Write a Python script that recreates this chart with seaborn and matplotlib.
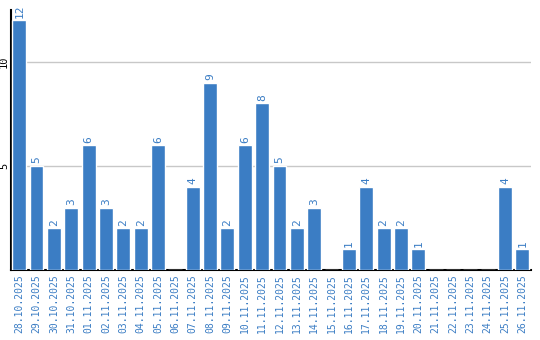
import matplotlib
matplotlib.use("Agg")
import matplotlib.pyplot as plt
import seaborn as sns
import pandas as pd

dates = ["28.10.2025", "29.10.2025", "30.10.2025", "31.10.2025", "01.11.2025",
         "02.11.2025", "03.11.2025", "04.11.2025", "05.11.2025", "06.11.2025",
         "07.11.2025", "08.11.2025", "09.11.2025", "10.11.2025", "11.11.2025",
         "12.11.2025", "13.11.2025", "14.11.2025", "15.11.2025", "16.11.2025",
         "17.11.2025", "18.11.2025", "19.11.2025", "20.11.2025", "21.11.2025",
         "22.11.2025", "23.11.2025", "24.11.2025", "25.11.2025", "26.11.2025"]
values = [12, 5, 2, 3, 6, 3, 2, 2, 6, 0, 4, 9, 2, 6, 8, 5, 2, 3, 0, 1,
          4, 2, 2, 1, 0, 0, 0, 0, 4, 1]
y_ticks = [5, 10]

sns.set_style("white")
plt.rcParams['font.family'] = ['DejaVu Sans Mono', 'DejaVu Sans']

df = pd.DataFrame({"date": dates, "value": values})
blue = "#3b7dc4"

fig = plt.figure(figsize=(5.4, 3.4), dpi=100)
ax = fig.add_axes([0.0195, 0.206, 0.964, 0.765])
sns.barplot(data=df, x="date", y="value", color=blue, width=0.8,
            saturation=1, ax=ax, zorder=3)
ax.set_xlim(-0.5, len(dates) - 0.5)
ax.set_ylim(0, 12.5)
ax.set_yticks(y_ticks)
ax.set_yticklabels([str(t) for t in y_ticks], rotation=90, va="center",
                   fontsize=7.5, color="black")
ax.yaxis.grid(True, color="#c8c8c8", linewidth=1, zorder=0)
ax.set_axisbelow(True)
ax.tick_params(axis="y", length=0, pad=1)
ax.tick_params(axis="x", length=0, pad=3)
ax.set_xticks(range(len(dates)))
ax.set_xticklabels(dates, rotation=90, fontsize=7, color=blue)
ax.set_xlabel("")
ax.set_ylabel("")
for s in ["top", "right"]:
    ax.spines[s].set_visible(False)
for s in ["left", "bottom"]:
    ax.spines[s].set_color("black")
    ax.spines[s].set_linewidth(1.5)

for i, v in enumerate(values):
    if v > 0:
        ax.text(i, v + 0.12, str(v), rotation=90, ha="center", va="bottom",
                fontsize=8, color=blue)

fig.savefig("out.png", dpi=100)
